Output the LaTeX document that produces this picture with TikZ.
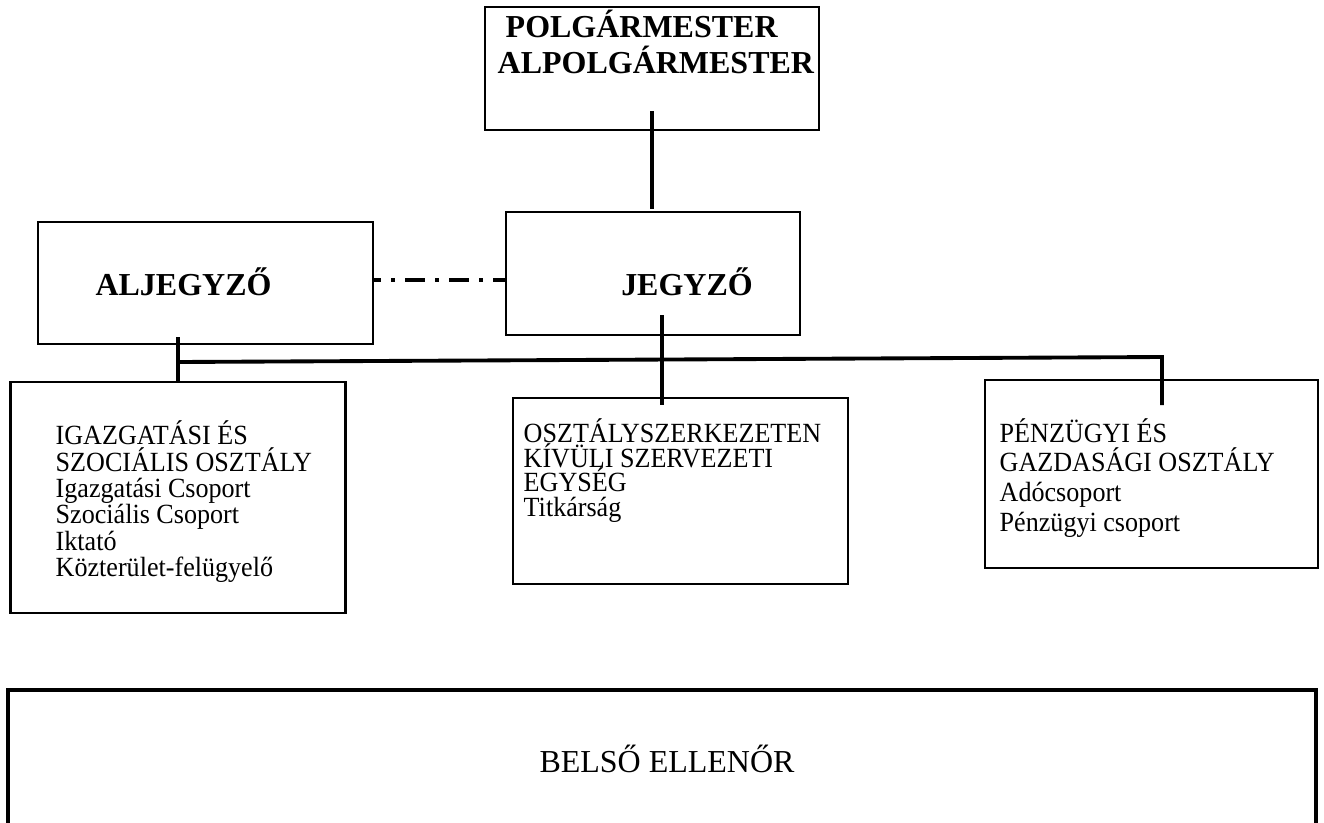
\documentclass[tikz,border=0pt]{standalone}
\usepackage{fontspec}
\setmainfont{Liberation Serif}
\newfontfamily\narrowserif{Liberation Serif}[FakeStretch=0.94]

\begin{document}
\begin{tikzpicture}[x=0.1mm, y=-0.1mm,
    orgbox/.style={draw, line width=0.6pt, inner sep=0pt},
    headtext/.style={font=\fontsize{9.1}{10.24}\selectfont\bfseries, inner sep=0pt},
    bodytext/.style={font=\narrowserif\fontsize{7.9}{#1}\selectfont, align=left, anchor=north west, inner sep=0pt},
    link/.style={line width=1.1pt},
    dashlink/.style={line width=1.1pt, dash pattern=on 5.7pt off 2.85pt on 1.14pt off 2.85pt, dash phase=3.7pt}]

    \useasboundingbox (0,0) rectangle (1324,822);

    % boxes
    \node[orgbox, minimum width=33.4mm, minimum height=12.3mm] (polg) at (652,68.5) {};
    \node[orgbox, minimum width=29.4mm, minimum height=12.3mm] (jegyzo) at (653,273.5) {};
    \node[orgbox, minimum width=33.5mm, minimum height=12.2mm] (aljegyzo) at (205.5,283) {};
    \node[orgbox, minimum width=33.5mm, minimum height=23.1mm] (igaz) at (178,497.5) {};
    \node[orgbox, minimum width=33.5mm, minimum height=18.6mm] (osz) at (680.5,491) {};
    \node[orgbox, minimum width=33.3mm, minimum height=18.8mm] (penz) at (1151.5,474) {};
    \node[orgbox, line width=1.1pt, minimum width=130.8mm, minimum height=14.4mm] (belso) at (662,762) {};

    % texts
    \node[headtext, anchor=north west, align=left] (polgtext) at (497,5)
        {\rule{0pt}{3.2mm}\hspace*{0.8mm}POLGÁRMESTER\\ALPOLGÁRMESTER};
    \node[headtext, anchor=base] (aljtext) at (183.5,295) {ALJEGYZŐ};
    \node[headtext, anchor=base] (jegytext) at (687,295) {JEGYZŐ};
    \node[bodytext=7.5pt] (igaztext) at (55,414)
        {\rule{0pt}{3mm}IGAZGATÁSI ÉS\\SZOCIÁLIS OSZTÁLY\\Igazgatási Csoport\\Szociális Csoport\\Iktató\\Közterület-felügyelő};
    \node[bodytext=6.97pt] (osztext) at (523,412)
        {\rule{0pt}{3mm}OSZTÁLYSZERKEZETEN\\KÍVÜLI SZERVEZETI\\EGYSÉG\\Titkárság};
    \node[bodytext=8.45pt] (penztext) at (999,411.5)
        {\rule{0pt}{3mm}PÉNZÜGYI ÉS\\GAZDASÁGI OSZTÁLY\\Adócsoport\\Pénzügyi csoport};
    \node[font=\fontsize{9.1}{10.24}\selectfont, inner sep=0pt, anchor=base] (belsotext) at (667,772) {BELSŐ ELLENŐR};

    % connectors
    \coordinate (busL) at (178,362);
    \coordinate (busR) at (1162,357);
    \coordinate (jegydown) at (662,315);
    \coordinate (oszin) at (662,405);
    \coordinate (penzin) at (1162,405);

    \draw[link] ([yshift=2mm]polg.south) -- ++(0,98);
    \draw[dashlink] ([yshift=.3mm]aljegyzo.east) -- ++(133,0);
    \draw[link] (igaz.north) -- ++(0,-44);
    \draw[link] (busL) -- (busR) -- (penzin);
    \draw[link] (jegydown) -- (oszin);

\end{tikzpicture}
\end{document}
